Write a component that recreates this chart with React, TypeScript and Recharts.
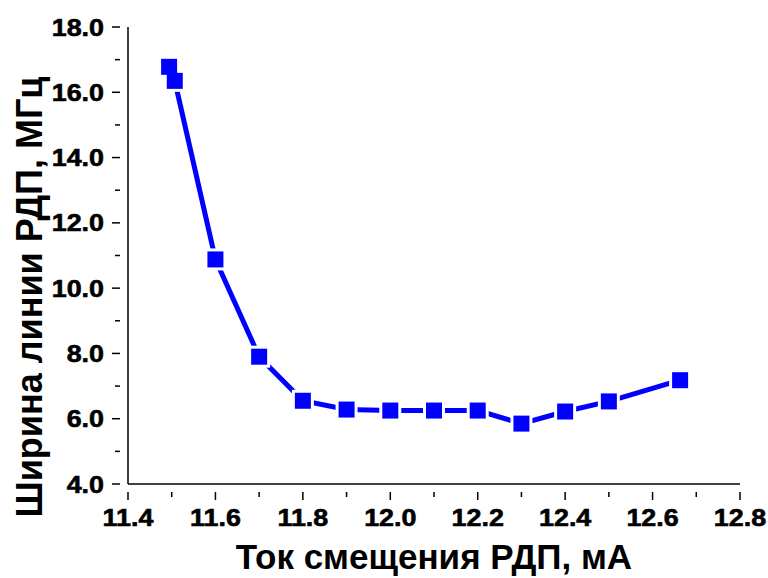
import { LineChart, Line, XAxis, YAxis } from "recharts";

// bias current (mA) vs line width (MHz)
const currents = [11.494, 11.507, 11.6, 11.7, 11.8, 11.9, 12.0, 12.1, 12.2, 12.3, 12.4, 12.5, 12.663];
const widths = [16.78, 16.35, 10.88, 7.9, 6.55, 6.28, 6.25, 6.25, 6.25, 5.85, 6.22, 6.53, 7.18];

const xTicks = [11.4, 11.5, 11.6, 11.7, 11.8, 11.9, 12.0, 12.1, 12.2, 12.3, 12.4, 12.5, 12.6, 12.7, 12.8];
const xMajor = [11.4, 11.6, 11.8, 12.0, 12.2, 12.4, 12.6, 12.8];
const yTicks = [4, 5, 6, 7, 8, 9, 10, 11, 12, 13, 14, 15, 16, 17, 18];
const yMajor = [4, 6, 8, 10, 12, 14, 16, 18];

const xTitle = "Ток смещения РДП, мА";
const yTitle = "Ширина линии РДП, МГц";

const data = currents.map((x, i) => ({ x, y: widths[i] }));

const FONT = "'Liberation Sans', Arial, sans-serif";
const BLUE = "#0000ff";

const isMajor = (list: number[], v: number) => list.some((m) => Math.abs(m - v) < 1e-6);

// tick numbers in the source are wider and heavier than plain Arial bold,
// hence the scaleX and the thin outline
function XTick(props: any) {
  const { x, y, payload } = props;
  const major = isMajor(xMajor, payload.value);
  return (
    <g>
      <line x1={x} x2={x} y1={y} y2={y + (major ? 8 : 5)} stroke="#000" strokeWidth={1.5} />
      {major && (
        <g transform={`translate(${x},${y + 34}) scale(1.12,1)`}>
          <text x={0} y={0} textAnchor="middle" fontFamily={FONT} fontWeight="bold" fontSize={24} fill="#000" stroke="#000" strokeWidth={0.6}>
            {payload.value.toFixed(1)}
          </text>
        </g>
      )}
    </g>
  );
}

function YTick(props: any) {
  const { x, y, payload } = props;
  const major = isMajor(yMajor, payload.value);
  return (
    <g>
      <line x1={x} x2={x - (major ? 8 : 5)} y1={y} y2={y} stroke="#000" strokeWidth={1.5} />
      {major && (
        <g transform={`translate(${x - 16},${y + 8.5}) scale(1.12,1)`}>
          <text x={0} y={0} textAnchor="end" fontFamily={FONT} fontWeight="bold" fontSize={24} fill="#000" stroke="#000" strokeWidth={0.6}>
            {payload.value.toFixed(1)}
          </text>
        </g>
      )}
    </g>
  );
}

// white halo under every marker gives the gap between line and square
function Halo(props: any) {
  const { cx, cy } = props;
  if (cx == null || cy == null) return null;
  return <rect x={cx - 11} y={cy - 11} width={22} height={22} fill="#fff" />;
}

function Square(props: any) {
  const { cx, cy } = props;
  if (cx == null || cy == null) return null;
  return <rect x={cx - 8} y={cy - 8} width={16} height={16} fill={BLUE} />;
}

export default function App() {
  return (
    <div style={{ position: "absolute", left: 0, top: 0, background: "#fff" }}>
      <LineChart width={768} height={578} data={data} margin={{ top: 27, right: 28, bottom: 0, left: 0 }}>
        <XAxis
          type="number"
          dataKey="x"
          domain={[11.4, 12.8]}
          ticks={xTicks}
          interval={0}
          tickLine={false}
          tick={<XTick />}
          axisLine={{ stroke: "#000", strokeWidth: 1.5 }}
          height={94}
          label={{
            content: () => (
              <text x={434} y={569} textAnchor="middle" fontFamily={FONT} fontWeight="bold" fontSize={35} fill="#000">
                {xTitle}
              </text>
            ),
          }}
        />
        <YAxis
          type="number"
          dataKey="y"
          domain={[4, 18]}
          ticks={yTicks}
          interval={0}
          tickLine={false}
          tick={<YTick />}
          axisLine={{ stroke: "#000", strokeWidth: 1.5 }}
          width={128}
          label={{
            content: () => (
              <text
                x={29}
                y={297}
                transform="rotate(-90 29 297)"
                textAnchor="middle"
                dominantBaseline="central"
                fontFamily={FONT}
                fontWeight="bold"
                fontSize={36}
                fill="#000"
              >
                {yTitle}
              </text>
            ),
          }}
        />
        <Line dataKey="y" stroke={BLUE} strokeWidth={5} strokeLinecap="round" dot={false} activeDot={false} isAnimationActive={false} />
        <Line dataKey="y" stroke="none" dot={<Halo />} activeDot={false} isAnimationActive={false} />
        <Line dataKey="y" stroke="none" dot={<Square />} activeDot={false} isAnimationActive={false} />
      </LineChart>
    </div>
  );
}
